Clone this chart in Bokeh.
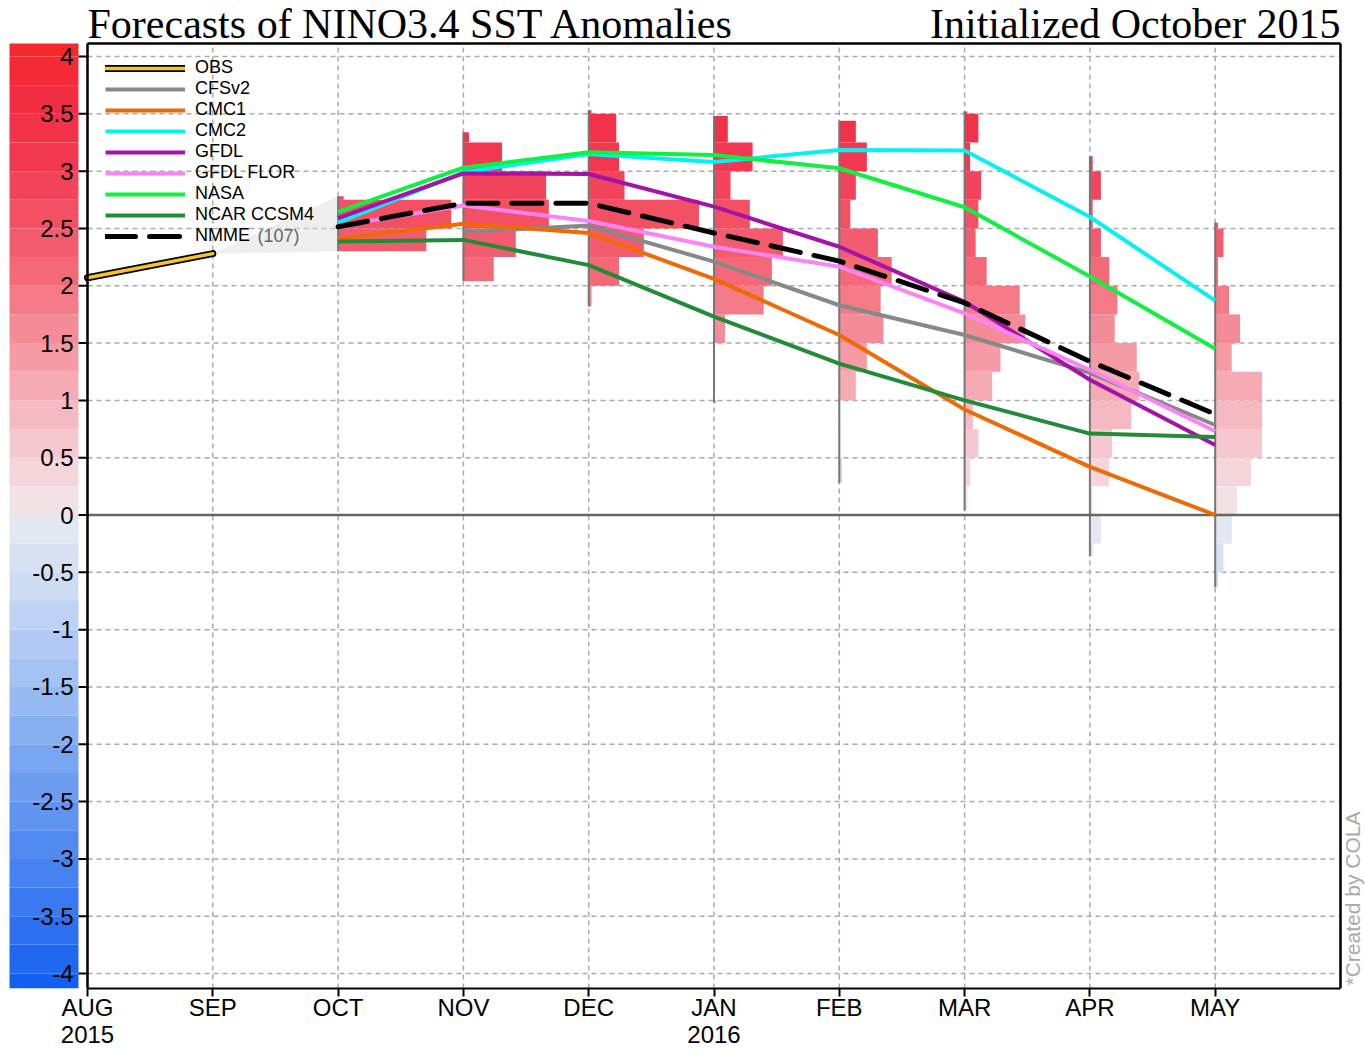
import math
import numpy as np
from bokeh.plotting import figure
from bokeh.models import Range1d, FixedTicker, Legend, LegendItem
from bokeh.embed import file_html
from bokeh.resources import INLINE
from bokeh.core.properties import value

nan = float("nan")

# ---------------- data ----------------
month_labels = ["AUG\n2015", "SEP", "OCT", "NOV", "DEC", "JAN\n2016", "FEB", "MAR", "APR", "MAY"]
month_x = list(range(len(month_labels)))

obs_months = [0, 1]
obs_values = [2.07, 2.28]

fcst_months = [2, 3, 4, 5, 6, 7, 8, 9]
cfsv2 = [nan, 2.47, 2.525, 2.21, 1.83, 1.57, 1.24, 0.785]
cmc1 = [2.41, 2.54, 2.46, 2.06, 1.57, 0.92, 0.42, 0.0]
cmc2 = [2.55, 2.99, 3.15, 3.08, 3.185, 3.18, 2.60, 1.87]
gfdl = [2.59, 2.98, 2.975, 2.69, 2.34, 1.86, 1.18, 0.61]
gfdl_flor = [2.52, 2.70, 2.565, 2.34, 2.167, 1.76, 1.265, 0.73]
nasa = [2.645, 3.03, 3.165, 3.14, 3.025, 2.685, 2.08, 1.45]
ncar_ccsm4 = [2.385, 2.40, 2.18, 1.73, 1.32, 1.0, 0.71, 0.68]
nmme = [2.515, 2.72, 2.72, 2.46, 2.215, 1.85, 1.34, 0.88]

# ensemble range (min / max of all members) per forecast month
ens_min = [2.30, 2.04, 1.82, 0.98, 0.28, 0.04, -0.36, -0.63]
ens_max = [2.78, 3.34, 3.53, 3.48, 3.44, 3.52, 3.13, 2.55]

# histogram bins (lower edges, width 0.25) and member counts per month
bin_lower = [-0.75, -0.5, -0.25, 0.0, 0.25, 0.5, 0.75, 1.0, 1.25, 1.5,
             1.75, 2.0, 2.25, 2.5, 2.75, 3.0, 3.25, 3.5]
hist_oct = [0, 0, 0, 0, 0, 0, 0, 0, 0, 0, 0, 0, 32, 41, 2, 0, 0, 0]
hist_nov = [0, 0, 0, 0, 0, 0, 0, 0, 0, 0, 0, 11, 19, 31, 30, 14, 2, 0]
hist_dec = [0, 0, 0, 0, 0, 0, 0, 0, 0, 0, 1, 11, 20, 40, 13, 11, 10, 1]
hist_jan = [0, 0, 0, 0, 0, 0, 1, 0, 0, 4, 18, 21, 25, 13, 6, 14, 5, 0]
hist_feb = [0, 0, 0, 0, 1, 0, 0, 6, 10, 16, 15, 19, 14, 4, 6, 10, 6, 0]
hist_mar = [0, 0, 0, 1, 2, 5, 3, 10, 13, 22, 20, 8, 4, 5, 6, 2, 5, 1]
hist_apr = [0, 1, 4, 1, 7, 8, 15, 18, 17, 9, 10, 7, 4, 1, 4, 1, 0, 0]
hist_may = [1, 3, 6, 8, 13, 17, 17, 17, 6, 9, 5, 1, 3, 1, 0, 0, 0, 0]
hists = [hist_oct, hist_nov, hist_dec, hist_jan, hist_feb, hist_mar, hist_apr, hist_may]

ytick_values = [4, 3.5, 3, 2.5, 2, 1.5, 1, 0.5, 0, -0.5, -1, -1.5, -2, -2.5, -3, -3.5, -4]
ytick_labels = ["4", "3.5", "3", "2.5", "2", "1.5", "1", "0.5", "0", "-0.5", "-1", "-1.5",
                "-2", "-2.5", "-3", "-3.5", "-4"]

title_left = "Forecasts of NINO3.4 SST Anomalies"
title_right = "Initialized October 2015"
credit = "*Created by COLA"
n_members = sum(hist_nov)

# ---------------- layout / style ----------------
SANS = "Liberation Sans"
SERIF = "Liberation Serif"
COUNT_W = 0.022          # month-width per ensemble member
W, H = 1365, 1051
BOTTOM = 63              # room for the month axis
PXM = 125.3              # pixels per month
PXU = 114.625            # pixels per unit of anomaly
X0PX, Y4PX = 87, 56      # pixel of month 0 and of anomaly 4


def xd(px):
    return (px - X0PX) / PXM


def yd(py):
    return 4 - (py - Y4PX) / PXU


Y_TOP = yd(43)           # top of the plotting box
Y_BOT = yd(H - BOTTOM)   # bottom of the plotting box

pos_anchor_v = [0.125, 0.625, 1.125, 1.625, 2.125, 2.625, 3.125, 3.625, 4.125]
pos_anchor_c = [(243, 226, 229), (244, 200, 206), (245, 170, 180), (244, 140, 152),
                (243, 105, 120), (243, 80, 100), (242, 55, 80), (243, 45, 65), (245, 40, 42)]
neg_anchor_v = [-4.125, -3.625, -3.125, -2.625, -2.125, -1.625, -1.125, -0.625, -0.125]
neg_anchor_c = [(18, 95, 240), (45, 112, 240), (70, 130, 240), (95, 148, 240), (120, 165, 241),
                (150, 185, 242), (178, 202, 243), (205, 219, 243), (227, 231, 242)]


def band_color(v):
    c = math.floor(v / 0.25) * 0.25 + 0.125
    c = max(-4.125, min(4.125, c))
    if c > 0:
        av, ac = pos_anchor_v, pos_anchor_c
    else:
        av, ac = neg_anchor_v, neg_anchor_c
    rgb = [int(round(np.interp(c, av, [a[k] for a in ac]))) for k in range(3)]
    return "#%02x%02x%02x" % tuple(rgb)


p = figure(width=W, height=H, x_range=Range1d(xd(0), xd(W)), y_range=Range1d(Y_BOT, yd(0)),
           y_axis_location=None, toolbar_location=None, output_backend="svg",
           min_border_left=0, min_border_right=0, min_border_top=0, min_border_bottom=BOTTOM)
p.outline_line_color = None
p.background_fill_color = "white"
p.border_fill_color = "white"
p.grid.visible = False

# month axis
p.xaxis.bounds = (month_x[0], 10)
p.xaxis.ticker = FixedTicker(ticks=month_x)
p.xaxis.major_label_overrides = {i: lab for i, lab in zip(month_x, month_labels)}
p.xaxis.major_label_text_font = SANS
p.xaxis.major_label_text_font_size = "24px"
p.xaxis.major_label_text_line_height = 1.0
p.xaxis.major_label_text_color = "black"
p.xaxis.major_tick_out = 8
p.xaxis.major_tick_in = 0
p.xaxis.major_tick_line_width = 2
p.xaxis.major_tick_line_color = "black"
p.xaxis.axis_line_width = 2
p.xaxis.axis_line_color = "black"
p.xaxis.major_label_standoff = -3
p.xaxis.minor_tick_line_color = None

# colour bar with anomaly scale
band_lo = list(np.arange(-4.25, 4.25, 0.25))
p.quad(left=xd(9), right=xd(78),
       bottom=[max(b, Y_BOT) for b in band_lo], top=[min(b + 0.25, Y_TOP) for b in band_lo],
       fill_color=[band_color(b + 0.125) for b in band_lo], line_color=None)
p.segment(x0=xd(78), x1=0, y0=ytick_values, y1=ytick_values, line_color="black", line_width=2)
p.text(x=xd(73), y=ytick_values, text=ytick_labels, text_align="right", text_baseline="middle",
       text_font=value(SANS), text_font_size="24px", text_color="black")

# dashed grid
p.segment(x0=0, x1=10, y0=ytick_values, y1=ytick_values,
          line_color="#aaaaaa", line_width=1.5, line_dash="5 4")
p.segment(x0=month_x, x1=month_x, y0=Y_BOT, y1=Y_TOP,
          line_color="#aaaaaa", line_width=1.5, line_dash="5 4")

# spread wedge between last observation and first forecast month
p.patch(x=[obs_months[-1], fcst_months[0], fcst_months[0]],
        y=[obs_values[-1], ens_max[0], ens_min[0]],
        fill_color="#dddddd", fill_alpha=0.5, line_color=None)

# histograms of the ensemble members
L, R, B, T, C = [], [], [], [], []
for m, counts, lo_lim, hi_lim in zip(fcst_months, hists, ens_min, ens_max):
    for lo, c in zip(bin_lower, counts):
        if c == 0:
            continue
        L.append(m)
        R.append(m + c * COUNT_W)
        B.append(max(lo, lo_lim))
        T.append(min(lo + 0.25, hi_lim))
        C.append(band_color(lo + 0.125))
p.quad(left=L, right=R, bottom=B, top=T, fill_color=C, line_color=None)

# ensemble ranges
p.segment(x0=fcst_months, y0=ens_min, x1=fcst_months, y1=ens_max,
          line_color="#777777", line_width=2)

# zero line
p.segment(x0=0, x1=10, y0=0, y1=0, line_color="#666666", line_width=2.5)

LW = 4
r_cfs = p.line(fcst_months, cfsv2, line_color="#888888", line_width=LW)
r_cmc1 = p.line(fcst_months, cmc1, line_color="#ee6a05", line_width=LW)
r_cmc2 = p.line(fcst_months, cmc2, line_color="#05f0f0", line_width=LW)
r_gfdl = p.line(fcst_months, gfdl, line_color="#a412a8", line_width=LW)
r_flor = p.line(fcst_months, gfdl_flor, line_color="#fa84f6", line_width=LW)
r_nasa = p.line(fcst_months, nasa, line_color="#10f040", line_width=LW)
r_ncar = p.line(fcst_months, ncar_ccsm4, line_color="#228b38", line_width=LW)
r_nmme = p.line(fcst_months, nmme, line_color="black", line_width=5,
                line_dash="30 14", line_cap="round")
r_obs_o = p.line(obs_months, obs_values, line_color="black", line_width=7, line_cap="round")
r_obs = p.line(obs_months, obs_values, line_color="#f6c521", line_width=3.5, line_cap="round")

# box around the plotting area
p.segment(x0=[0, 10, 0], x1=[0, 10, 10], y0=[Y_BOT, Y_BOT, Y_TOP], y1=[Y_TOP, Y_TOP, Y_TOP],
          line_color="black", line_width=2.5)

# titles and credit
p.text(x=[0], y=[yd(23.5)], text=[title_left], text_align="left", text_baseline="middle",
       text_font=value(SERIF), text_font_size="42px", text_color="black")
p.text(x=[10], y=[yd(23.5)], text=[title_right], text_align="right", text_baseline="middle",
       text_font=value(SERIF), text_font_size="42px", text_color="black")
p.text(x=[xd(1352)], y=[yd(985)], text=[credit], angle=math.pi / 2, text_align="left",
       text_baseline="middle", text_font=value(SANS), text_font_size="21px",
       text_color="#aaaaaa")

legend = Legend(items=[
    LegendItem(label="OBS", renderers=[r_obs_o, r_obs]),
    LegendItem(label="CFSv2", renderers=[r_cfs]),
    LegendItem(label="CMC1", renderers=[r_cmc1]),
    LegendItem(label="CMC2", renderers=[r_cmc2]),
    LegendItem(label="GFDL", renderers=[r_gfdl]),
    LegendItem(label="GFDL FLOR", renderers=[r_flor]),
    LegendItem(label="NASA", renderers=[r_nasa]),
    LegendItem(label="NCAR CCSM4", renderers=[r_ncar]),
    LegendItem(label="NMME", renderers=[r_nmme]),
], location=(97, 734))
legend.glyph_width = 80
legend.glyph_height = 20
legend.label_height = 20
legend.label_standoff = 10
legend.spacing = 0
legend.padding = 8
legend.margin = 0
legend.background_fill_alpha = 0
legend.border_line_alpha = 0
legend.label_text_font = SANS
legend.label_text_font_size = "18px"
legend.label_text_color = "black"
p.add_layout(legend)

p.text(x=[xd(257)], y=[yd(235.5)], text=["(%d)" % n_members], text_align="left",
       text_baseline="middle", text_font=value(SANS), text_font_size="18px",
       text_color="#666666")

open("out.html", "w").write(file_html(p, INLINE))
